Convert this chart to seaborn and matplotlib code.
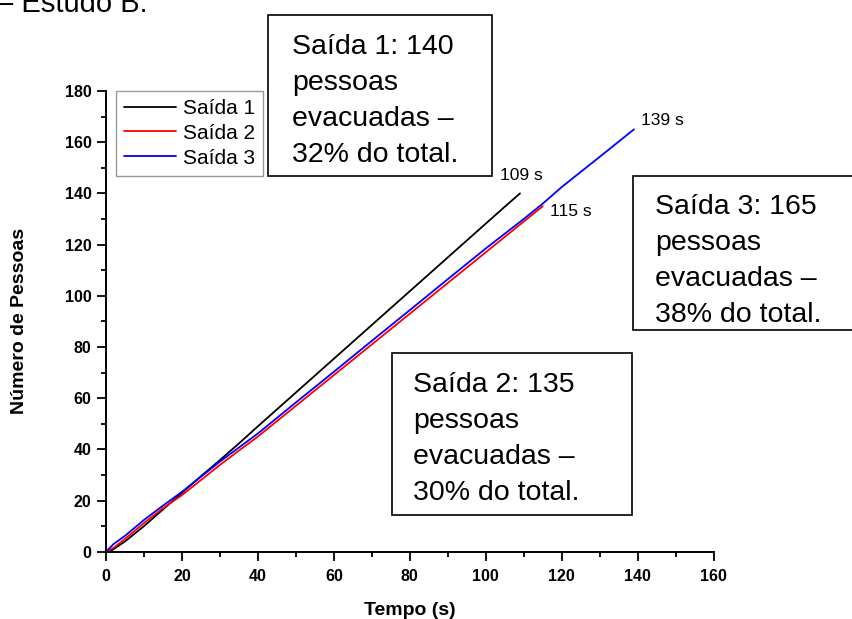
import matplotlib
matplotlib.use("Agg")
import matplotlib.pyplot as plt
from matplotlib.patches import Rectangle
from matplotlib.ticker import MultipleLocator
import seaborn as sns
import pandas as pd

# Cumulative evacuees per exit over time
t_saida1 = [0, 1, 5, 10, 15, 20, 25, 30, 35, 40, 45, 50, 55, 60, 65, 70, 75, 80, 85, 90, 95, 100, 105, 109]
n_saida1 = [0, 0, 4, 10, 16.5, 23, 29.5, 35.8, 42.3, 49, 55.6, 62.2, 68.8, 75.4, 82, 88.6, 95.2, 101.8, 108.4, 115, 121.6, 128.2, 134.8, 140]

t_saida2 = [0, 2, 5, 10, 15, 20, 25, 30, 35, 40, 50, 60, 70, 80, 90, 100, 110, 115]
n_saida2 = [0, 1.5, 5, 11.2, 17, 22.1, 28, 33.9, 39.5, 45, 57, 69, 81, 93, 105, 117, 129, 135]

t_saida3 = [0, 2, 5, 10, 15, 20, 25, 30, 35, 40, 50, 60, 70, 80, 90, 100, 110, 115, 120, 130, 139]
n_saida3 = [0, 3, 6.2, 12.4, 18, 23.4, 29.3, 35.2, 40.7, 46.2, 58.3, 70.3, 82.4, 94.4, 106.5, 118.5, 130, 136, 142.5, 154.3, 165]

series_names = ["Saída 1", "Saída 2", "Saída 3"]
series_colors = ["#000000", "#ff0000", "#0000ff"]

end_labels = ["109 s", "115 s", "139 s"]
end_label_pos = [(103.8, 147), (117, 132.8), (140.9, 168.4)]

box_texts = [
    "Saída 1: 140\npessoas\nevacuadas –\n32% do total.",
    "Saída 3: 165\npessoas\nevacuadas –\n38% do total.",
    "Saída 2: 135\npessoas\nevacuadas –\n30% do total.",
]

df = pd.concat([
    pd.DataFrame({"Tempo": t, "Pessoas": n, "Saída": name})
    for t, n, name in zip([t_saida1, t_saida2, t_saida3],
                          [n_saida1, n_saida2, n_saida3], series_names)
], ignore_index=True)

sns.set_style("ticks")
plt.rcParams["font.family"] = ["Liberation Sans", "DejaVu Sans"]
plt.rcParams.update({"text.color": "black", "axes.labelcolor": "black",
                     "xtick.color": "black", "ytick.color": "black",
                     "axes.edgecolor": "black"})

W, H = 852, 619
fig = plt.figure(figsize=(W / 100, H / 100), dpi=100)
ax = fig.add_axes([106 / W, 1 - 551.7 / H, (713.7 - 106) / W, (551.7 - 91) / H])

sns.lineplot(data=df, x="Tempo", y="Pessoas", hue="Saída",
             palette=dict(zip(series_names, series_colors)),
             linewidth=1.3, ax=ax, sort=False, estimator=None)

ax.set_xlim(0, 160)
ax.set_ylim(0, 180)
ax.xaxis.set_major_locator(MultipleLocator(20))
ax.xaxis.set_minor_locator(MultipleLocator(10))
ax.yaxis.set_major_locator(MultipleLocator(20))
ax.yaxis.set_minor_locator(MultipleLocator(10))
ax.tick_params(which="major", direction="out", length=6.5, width=1.3, labelsize=11.5)
ax.tick_params(axis="x", which="major", pad=6)
ax.tick_params(axis="y", which="major", pad=4)
ax.tick_params(which="minor", direction="out", length=3.5, width=1.3)
for lab in ax.get_xticklabels() + ax.get_yticklabels():
    lab.set_fontweight("bold")
for side in ["top", "right"]:
    ax.spines[side].set_visible(False)
for side in ["left", "bottom"]:
    ax.spines[side].set_linewidth(1.4)
ax.set_xlabel("Tempo (s)", fontsize=14, fontweight="bold", labelpad=13)
ax.set_ylabel("Número de Pessoas", fontsize=14, fontweight="bold", labelpad=26)

leg = ax.legend(loc="upper left", bbox_to_anchor=(116 / W, 1 - 91 / H),
                bbox_transform=fig.transFigure, borderaxespad=0,
                fontsize=15, frameon=True, fancybox=False,
                handlelength=2.5, handletextpad=0.35, labelspacing=0.28,
                borderpad=0.38, title=None)
leg.get_frame().set_edgecolor("#808080")
leg.get_frame().set_linewidth(1.0)
for h in leg.get_lines():
    h.set_linewidth(1.3)

for txt, (x, y) in zip(end_labels, end_label_pos):
    ax.text(x, y, txt, fontsize=12.5, va="center", ha="left")

# Annotation boxes in figure pixels: (left, top, right, bottom) and text origin
boxes = [(268, 15, 492, 176, 292, 34), (633, 176, 870, 330, 655, 194), (392, 353, 632, 515, 413, 372)]
for (l, tp, r, b, tx, ty), txt in zip(boxes, box_texts):
    fig.add_artist(Rectangle((l / W, 1 - b / H), (r - l) / W, (b - tp) / H,
                             transform=fig.transFigure, fill=True, facecolor="white",
                             edgecolor="black", linewidth=1.2))
    fig.text(tx / W, 1 - ty / H, txt, fontsize=20.5, va="top", ha="left",
             linespacing=1.5)

fig.text(-3 / W, 1 - 12 / H, "– Estudo B.", fontsize=21, va="baseline", ha="left")

fig.savefig("out.png", dpi=100)
